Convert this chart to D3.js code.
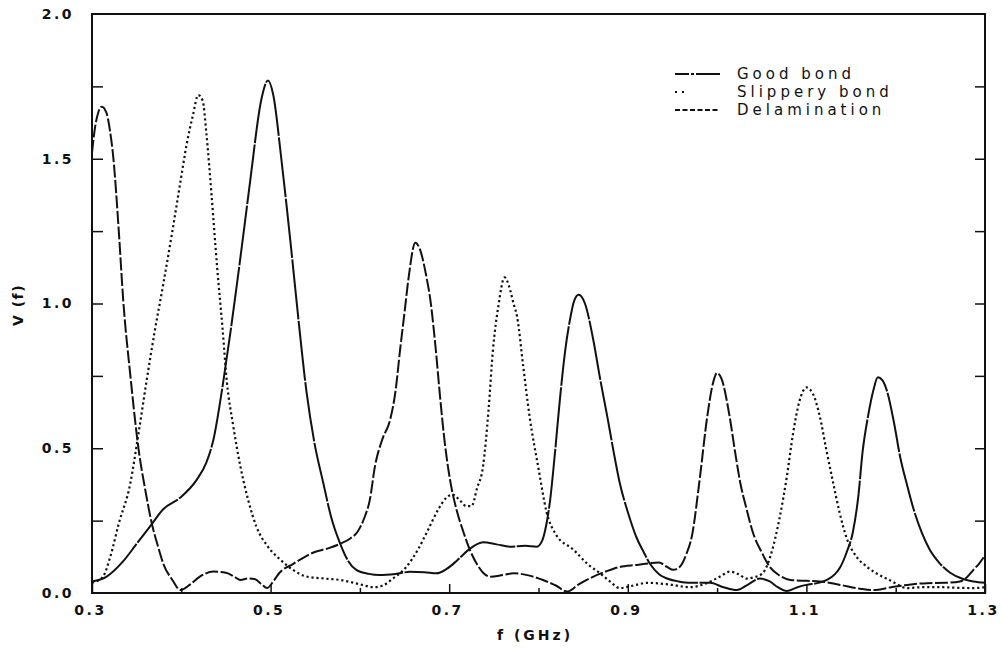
<!DOCTYPE html>
<html>
<head>
<meta charset="utf-8">
<script src="https://cdn.jsdelivr.net/npm/d3@7"></script>
<style>
  body { margin: 0; background: #fff; }
  text { font-family: "DejaVu Sans", sans-serif; fill: #111; }
</style>
</head>
<body>
<script>
// series: frequency (GHz) and V(f)
var delamF = [0.300,0.303,0.307,0.311,0.316,0.320,0.324,0.330,0.335,0.343,0.352,0.360,0.367,0.374,0.380,0.390,0.399,
  0.410,0.420,0.436,0.450,0.460,0.466,0.475,0.482,0.490,0.496,0.503,0.510,0.525,0.548,0.565,0.578,0.590,0.597,0.605,
  0.611,0.617,0.625,0.634,0.640,0.645,0.650,0.655,0.662,0.668,0.674,0.679,0.685,0.690,0.695,0.701,0.708,0.716,0.723,
  0.731,0.738,0.746,0.760,0.772,0.790,0.805,0.820,0.832,0.845,0.861,0.876,0.891,0.910,0.925,0.935,0.944,0.951,0.958,
  0.965,0.972,0.980,0.989,0.995,1.000,1.005,1.014,1.020,1.026,1.033,1.040,1.050,1.059,1.070,1.082,1.100,1.115,1.138,
  1.160,1.175,1.195,1.213,1.235,1.255,1.272,1.280,1.287,1.293,1.300];
var delamV = [1.52,1.60,1.66,1.68,1.66,1.60,1.50,1.25,1.01,0.75,0.50,0.35,0.24,0.16,0.10,0.045,0.01,
  0.03,0.055,0.074,0.07,0.055,0.045,0.05,0.048,0.03,0.017,0.04,0.07,0.10,0.14,0.155,0.17,0.19,0.21,0.26,
  0.32,0.44,0.53,0.60,0.70,0.84,0.97,1.10,1.21,1.18,1.10,1.01,0.84,0.67,0.52,0.39,0.29,0.21,0.15,
  0.10,0.07,0.056,0.062,0.068,0.06,0.045,0.025,0.005,0.03,0.056,0.075,0.09,0.097,0.103,0.105,0.09,0.08,0.09,
  0.13,0.20,0.38,0.61,0.72,0.76,0.74,0.61,0.49,0.38,0.29,0.21,0.14,0.09,0.06,0.045,0.042,0.04,0.028,
  0.015,0.01,0.02,0.028,0.034,0.035,0.04,0.055,0.08,0.10,0.13];

var goodF = [0.300,0.316,0.335,0.350,0.365,0.380,0.399,0.417,0.428,0.436,0.447,0.455,0.462,0.470,0.477,0.490,0.497,
  0.503,0.512,0.522,0.531,0.540,0.549,0.559,0.568,0.578,0.587,0.596,0.610,0.622,0.640,0.656,0.672,0.686,0.698,0.708,
  0.722,0.738,0.753,0.768,0.785,0.798,0.804,0.809,0.813,0.818,0.824,0.830,0.835,0.840,0.845,0.852,0.861,0.869,0.877,
  0.884,0.891,0.900,0.910,0.918,0.925,0.935,0.944,0.957,0.970,0.992,1.007,1.022,1.035,1.048,1.059,1.068,1.078,1.090,
  1.100,1.113,1.123,1.132,1.138,1.145,1.152,1.158,1.163,1.169,1.175,1.180,1.185,1.190,1.198,1.205,1.213,1.220,1.229,
  1.238,1.250,1.261,1.274,1.287,1.300];
var goodV = [0.04,0.056,0.11,0.17,0.23,0.29,0.33,0.39,0.45,0.53,0.73,0.90,1.06,1.25,1.42,1.71,1.77,
  1.72,1.50,1.22,0.95,0.70,0.52,0.38,0.26,0.17,0.11,0.08,0.066,0.062,0.066,0.073,0.072,0.068,0.085,0.11,
  0.15,0.175,0.168,0.16,0.163,0.16,0.18,0.24,0.32,0.47,0.67,0.84,0.94,1.01,1.03,1.00,0.88,0.74,0.61,
  0.49,0.38,0.28,0.19,0.14,0.10,0.065,0.05,0.04,0.035,0.035,0.02,0.01,0.03,0.05,0.04,0.02,0.007,0.02,
  0.028,0.035,0.045,0.065,0.09,0.14,0.21,0.33,0.49,0.61,0.70,0.745,0.735,0.70,0.59,0.47,0.37,0.29,0.21,
  0.15,0.10,0.07,0.05,0.04,0.035];

var slipF = [0.300,0.312,0.320,0.330,0.343,0.352,0.361,0.370,0.380,0.390,0.399,0.406,0.413,0.419,0.424,0.428,0.434,
  0.440,0.446,0.451,0.458,0.466,0.475,0.484,0.497,0.511,0.525,0.540,0.560,0.578,0.600,0.615,0.625,0.637,0.652,0.665,
  0.675,0.688,0.697,0.704,0.712,0.719,0.725,0.731,0.738,0.744,0.749,0.755,0.762,0.767,0.772,0.776,0.783,0.790,0.800,
  0.809,0.820,0.839,0.855,0.869,0.880,0.891,0.905,0.922,0.945,0.970,0.985,0.996,1.005,1.014,1.024,1.033,1.042,1.051,
  1.060,1.070,1.078,1.085,1.092,1.100,1.107,1.115,1.122,1.130,1.137,1.145,1.155,1.168,1.180,1.193,1.213,1.230,1.250,
  1.270,1.287,1.300];
var slipV = [0.035,0.055,0.12,0.24,0.38,0.55,0.73,0.90,1.07,1.25,1.42,1.55,1.65,1.72,1.70,1.59,1.37,
  1.13,0.92,0.73,0.58,0.44,0.32,0.23,0.16,0.115,0.08,0.057,0.05,0.045,0.03,0.02,0.025,0.05,0.09,0.15,
  0.21,0.29,0.33,0.34,0.32,0.30,0.30,0.36,0.44,0.63,0.84,0.99,1.09,1.06,1.00,0.955,0.78,0.61,0.43,
  0.28,0.20,0.15,0.10,0.068,0.04,0.017,0.025,0.035,0.03,0.02,0.03,0.045,0.06,0.074,0.065,0.05,0.055,0.068,
  0.13,0.26,0.40,0.55,0.66,0.71,0.69,0.61,0.50,0.38,0.28,0.19,0.13,0.09,0.065,0.045,0.017,0.02,0.02,
  0.018,0.017,0.02];

var seriesNames = ["Good bond", "Slippery bond", "Delamination"];
var xMajorTicks = [0.3, 0.5, 0.7, 0.9, 1.1, 1.3];
var xMinorTicks = [0.4, 0.6, 0.8, 1.0, 1.2];
var yLabelTicks = [0.0, 0.5, 1.0, 1.5, 2.0];
var yAllTicks = [0.25, 0.5, 0.75, 1.0, 1.25, 1.5, 1.75];

const WIDTH = 1002;
const HEIGHT = 649;
const LEFT = 92, RIGHT = 985, TOP = 14, BOTTOM = 593;

var x = d3.scaleLinear().domain([0.3, 1.3]).range([LEFT, RIGHT]);
var y = d3.scaleLinear().domain([0, 2.0]).range([BOTTOM, TOP]);

var svg = d3.select("body").append("svg")
    .attr("width", WIDTH)
    .attr("height", HEIGHT);

// line styles per series
var styles = {
  "Good bond":     { dash: "60,1.5", width: 2 },
  "Slippery bond": { dash: "2.2,2.8", width: 2.2 },
  "Delamination":  { dash: "13,2.5", width: 2 }
};

var series = [
  { name: "Good bond", f: goodF, v: goodV },
  { name: "Slippery bond", f: slipF, v: slipV },
  { name: "Delamination", f: delamF, v: delamV }
];

var line = d3.line()
    .x(d => x(d[0]))
    .y(d => y(d[1]))
    .curve(d3.curveMonotoneX);

svg.append("g").selectAll("path")
  .data(series)
  .enter()
  .append("path")
  .attr("d", s => line(d3.zip(s.f, s.v)))
  .attr("fill", "none")
  .attr("stroke", "#111")
  .attr("stroke-width", s => styles[s.name].width)
  .attr("stroke-dasharray", s => styles[s.name].dash);

// axes, ticks pointing inward
function tidy(g) {
  g.select(".domain").remove();
  g.selectAll(".tick line").attr("stroke", "#111").attr("stroke-width", 1.5);
  g.selectAll(".tick text")
    .attr("font-size", "14px")
    .attr("font-weight", "bold")
    .attr("letter-spacing", "2.5px")
    .attr("fill", "#111");
}

svg.append("g")
    .attr("transform", `translate(0,${BOTTOM})`)
    .call(d3.axisBottom(x).tickValues(xMajorTicks).tickSize(-9).tickPadding(12).tickFormat(d3.format(".1f")))
    .call(tidy)
    .selectAll(".tick text").attr("dx", "-2");

svg.append("g")
    .attr("transform", `translate(0,${BOTTOM})`)
    .call(d3.axisBottom(x).tickValues(xMinorTicks).tickSize(-5).tickFormat(""))
    .call(tidy);

svg.append("g")
    .attr("transform", `translate(${LEFT},0)`)
    .call(d3.axisLeft(y).tickValues(yLabelTicks).tickSize(0).tickPadding(18).tickFormat(d3.format(".1f")))
    .call(tidy);

svg.append("g")
    .attr("transform", `translate(${LEFT},0)`)
    .call(d3.axisLeft(y).tickValues(yAllTicks).tickSize(-11).tickFormat(""))
    .call(tidy);

svg.append("g")
    .attr("transform", `translate(${RIGHT},0)`)
    .call(d3.axisRight(y).tickValues(yAllTicks).tickSize(-10).tickFormat(""))
    .call(tidy);

// frame
svg.append("rect")
    .attr("x", LEFT).attr("y", TOP)
    .attr("width", RIGHT - LEFT).attr("height", BOTTOM - TOP)
    .attr("fill", "none")
    .attr("stroke", "#111")
    .attr("stroke-width", 2);

// axis titles
svg.append("text")
    .attr("x", 535).attr("y", 640)
    .attr("text-anchor", "middle")
    .attr("font-size", "14px")
    .attr("font-weight", "bold")
    .attr("letter-spacing", "3px")
    .text("f (GHz)");

svg.append("text")
    .attr("transform", "translate(23,305) rotate(-90)")
    .attr("text-anchor", "middle")
    .attr("font-size", "14px")
    .attr("font-weight", "bold")
    .attr("letter-spacing", "1.5px")
    .text("V (f)");

// legend
var legend = svg.append("g").attr("transform", "translate(675,74)");
var rows = legend.selectAll("g")
  .data(seriesNames)
  .enter()
  .append("g")
  .attr("transform", (d, i) => `translate(0,${i * 18})`);

rows.append("line")
  .attr("x1", 0).attr("x2", d => d === "Slippery bond" ? 12 : 45)
  .attr("y1", 0).attr("y2", 0)
  .attr("stroke", "#111")
  .attr("stroke-width", 1.8)
  .attr("stroke-dasharray", d => d === "Good bond" ? "14,2,3,2,24" : d === "Delamination" ? "5,2.5" : "2,5");

rows.append("text")
  .attr("x", 62).attr("y", 5)
  .attr("font-size", "15px")
  .attr("letter-spacing", "4px")
  .text(d => d);
</script>
</body>
</html>
